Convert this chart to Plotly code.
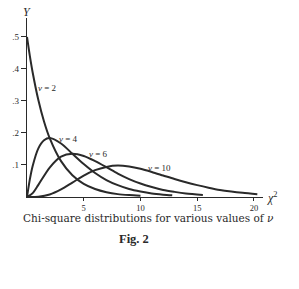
import plotly.graph_objects as go

# Chi-square density curves
v2_x = [0, 0.25, 0.5, 1, 1.5, 2, 3, 4, 5, 6, 7, 8, 9, 10]
v2_y = [0.5, 0.441, 0.389, 0.303, 0.236, 0.184, 0.112, 0.068, 0.041, 0.025, 0.015, 0.009, 0.006, 0.004]

v4_x = [0, 0.25, 0.5, 1, 1.5, 2, 3, 4, 5, 6, 7, 8, 9, 10, 11, 12, 12.8]
v4_y = [0, 0.055, 0.097, 0.152, 0.177, 0.184, 0.167, 0.135, 0.103, 0.075, 0.053, 0.037, 0.025, 0.017, 0.011, 0.0074, 0.0053]

v6_x = [0, 0.5, 1, 2, 3, 4, 5, 6, 7, 8, 9, 10, 11, 12, 13, 14, 15.5]
v6_y = [0, 0.012, 0.038, 0.092, 0.126, 0.135, 0.128, 0.112, 0.093, 0.073, 0.056, 0.042, 0.031, 0.022, 0.016, 0.011, 0.0065]

v10_x = [0, 1, 2, 3, 4, 5, 6, 7, 8, 9, 10, 11, 12, 13, 14, 15, 16, 17, 18, 19, 20.3]
v10_y = [0, 0.0008, 0.0077, 0.0235, 0.045, 0.067, 0.084, 0.094, 0.098, 0.095, 0.088, 0.078, 0.067, 0.056, 0.046, 0.037, 0.029, 0.022, 0.017, 0.013, 0.0088]

labels = ["<i>ν</i> = 2", "<i>ν</i> = 4", "<i>ν</i> = 6", "<i>ν</i> = 10"]
label_x = [1.8, 3.7, 6.3, 11.7]
label_y = [0.34, 0.18, 0.135, 0.092]

x_ticks = [5, 10, 15, 20]
y_ticks = [0.1, 0.2, 0.3, 0.4, 0.5]
y_tick_text = [".1", ".2", ".3", ".4", ".5"]

ink = "#2a2a2a"
serif = "Liberation Serif"
wide_serif = "DejaVu Serif"

fig = go.Figure()
for xs, ys in [(v2_x, v2_y), (v4_x, v4_y), (v6_x, v6_y), (v10_x, v10_y)]:
    fig.add_trace(go.Scatter(x=xs, y=ys, mode="lines",
                             line=dict(color=ink, width=2, shape="spline", smoothing=0.8),
                             showlegend=False, hoverinfo="skip"))

for t, lx, ly in zip(labels, label_x, label_y):
    fig.add_annotation(x=lx, y=ly, text=t, showarrow=False, xanchor="center", yanchor="middle",
                       font=dict(family=serif, size=9, color=ink))

fig.add_annotation(xref="paper", yref="paper", x=0, y=1, yshift=-3, text="<i>Y</i>", showarrow=False,
                   xanchor="center", yanchor="bottom", font=dict(family=serif, size=12, color=ink))
fig.add_annotation(xref="paper", yref="paper", x=1, y=0, xshift=2, text="<i>χ</i><sup>2</sup>",
                   showarrow=False, xanchor="left", yanchor="middle",
                   font=dict(family=serif, size=12, color=ink))
fig.add_annotation(xref="paper", yref="paper", x=0.515, y=0, yshift=-13,
                   text="Chi-square distributions for various values of <i>ν</i>",
                   showarrow=False, xanchor="center", yanchor="top",
                   font=dict(family=wide_serif, size=10.5, color=ink))
fig.add_annotation(xref="paper", yref="paper", x=0.455, y=0, yshift=-33,
                   text="<b>Fig. 2</b>", showarrow=False, xanchor="center", yanchor="top",
                   font=dict(family=serif, size=12.5, color=ink))

fig.update_xaxes(range=[0, 20.8], tickvals=x_ticks, ticks="outside", ticklen=3, tickcolor=ink,
                 showline=True, linecolor=ink, linewidth=1.3, showgrid=False, zeroline=False,
                 tickfont=dict(family=serif, size=8.5, color=ink))
fig.update_yaxes(range=[0, 0.559], tickvals=y_ticks, ticktext=y_tick_text, ticks="outside",
                 ticklen=5, tickcolor=ink, showline=True, linecolor=ink, linewidth=1.3,
                 showgrid=False, zeroline=False, tickfont=dict(family=serif, size=9, color=ink))

fig.update_layout(width=299, height=289, margin=dict(l=24, r=36, t=18, b=92),
                  plot_bgcolor="white", paper_bgcolor="white")

fig.write_html("out.html")
